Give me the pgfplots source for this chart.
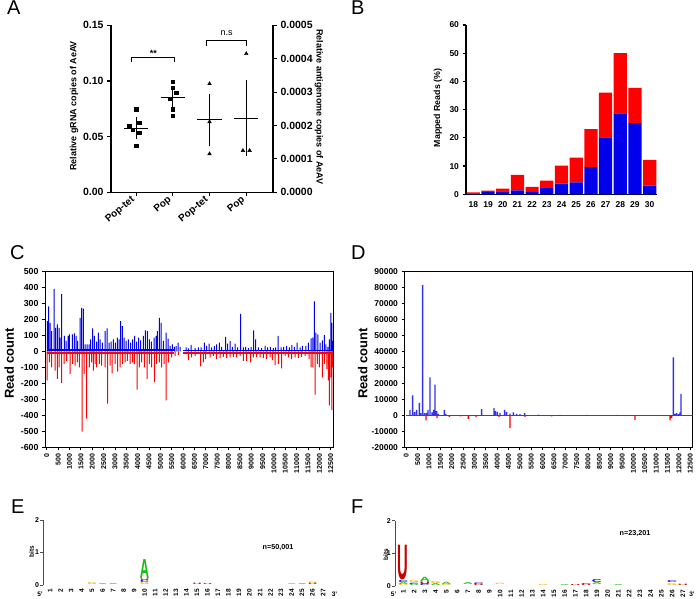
\documentclass[border=0pt]{standalone}
\usepackage{fontspec}
\setmainfont{Liberation Sans}
\usepackage{graphicx}
\usepackage{pgfplots}
\pgfplotsset{compat=1.18}
\definecolor{cblue}{RGB}{0,0,235}
\definecolor{dblue}{RGB}{50,50,230}
\definecolor{cred}{RGB}{255,0,0}
\definecolor{lgA}{RGB}{20,190,20}
\definecolor{lgU}{RGB}{200,0,0}
\definecolor{lgC}{RGB}{0,0,210}
\definecolor{lgG}{RGB}{255,175,0}
\newcommand{\fs}[1]{\fontsize{#1}{#1}\selectfont}
\newcommand{\lgl}[3]{\resizebox{#2}{#3}{\bfseries #1}}
\newcommand{\lgp}[6]{\addplot[only marks, mark=text, text mark as node=true, text mark={\lgl{#1}{#6}{#5}}, text mark style={inner sep=0pt, anchor=center, text=#2}, color=#2] coordinates {(#3,#4)};}
\pgfplotsset{myax/.style={scale only axis, anchor=south west,
  /pgf/number format/assume math mode=true, /pgf/number format/1000 sep={},
  scaled ticks=false}}
\begin{document}
\begin{tikzpicture}[x=1pt,y=1pt]
\useasboundingbox (0pt,0pt) rectangle (696pt,599pt);
% panel letters
\node[anchor=base west, font=\fs{20}, inner sep=0pt] at (7pt,584pt) {A};
\node[anchor=base west, font=\fs{20}, inner sep=0pt] at (351pt,584pt) {B};
\node[anchor=base west, font=\fs{20}, inner sep=0pt] at (10pt,339pt) {C};
\node[anchor=base west, font=\fs{20}, inner sep=0pt] at (351pt,339pt) {D};
\node[anchor=base west, font=\fs{20}, inner sep=0pt] at (11pt,85pt) {E};
\node[anchor=base west, font=\fs{20}, inner sep=0pt] at (351pt,85pt) {F};

% ---------------- A (left axis) ----------------
\begin{axis}[myax, at={(111pt,406.7pt)}, width=162pt, height=167pt,
  xmin=0.15, xmax=5, ymin=0, ymax=0.15, clip=false,
  axis x line*=bottom, axis y line*=left, axis line style={-, line width=1.1pt},
  tick align=outside, major tick length=4pt, tick style={line width=1.1pt, black},
  ytick={0,0.05,0.1,0.15}, yticklabels={0.00,0.05,0.10,0.15},
  xtick={0.9,2.0,3.1,4.2}, xticklabels={Pop-tet,Pop,Pop-tet,Pop},
  xticklabel style={rotate=40, anchor=east, font=\fs{10}\bfseries},
  yticklabel style={font=\fs{10.5}\bfseries},
  ylabel={Relative gRNA copies of AeAV},
  ylabel style={at={(axis description cs:-0.228,0.517)}, anchor=center, font=\fs{9}\bfseries}]
\addplot[only marks, mark=square*, mark size=1.75pt, black] coordinates {(0.9,0.0745)(0.7,0.0595)(1.0,0.0625)(0.8,0.056)(1.0,0.0535)(0.9,0.0418)};
\addplot[only marks, mark=square*, mark size=1.75pt, black] coordinates {(2.0,0.0993)(2.0,0.0939)(2.1,0.0894)(1.9,0.0841)(2.0,0.0745)(2.0,0.0688)};
\addplot[black, line width=1pt] coordinates {(0.535,0.0577)(1.265,0.0577)};
\addplot[black, line width=1pt] coordinates {(1.635,0.0853)(2.365,0.0853)};
\addplot[black, mark=none, error bars/.cd, y dir=both, y explicit, error bar style={line width=1pt}, error mark options={black, mark size=5.8pt, line width=1pt}] coordinates {(0.9,0.0577) +- (0,0.0045)};
\addplot[black, mark=none, error bars/.cd, y dir=both, y explicit, error bar style={line width=1pt}, error mark options={black, mark size=5.8pt, line width=1pt}] coordinates {(2.0,0.0853) +- (0,0.0045)};
\addplot[black, line width=1pt] coordinates {(0.77,0.1173)(0.77,0.1212)(2.05,0.1212)(2.05,0.1173)};
\addplot[black, line width=1pt] coordinates {(3.02,0.1311)(3.02,0.1359)(4.21,0.1359)(4.21,0.1311)};
\node[font=\fs{9}\bfseries] at (axis cs:1.42,0.1245) {**};
\node[font=\fs{9}] at (axis cs:3.61,0.1433) {n.s};
\end{axis}
% ---------------- A (right axis) ----------------
\begin{axis}[myax, at={(111pt,406.7pt)}, width=162pt, height=167pt,
  xmin=0.15, xmax=5, ymin=0, ymax=0.0005, clip=false,
  axis x line=none, axis y line*=right, axis line style={-, line width=1.1pt},
  tick align=outside, major tick length=4pt, tick style={line width=1.1pt, black},
  xtick=\empty,
  ytick={0,0.0001,0.0002,0.0003,0.0004,0.0005},
  yticklabels={0.0000,0.0001,0.0002,0.0003,0.0004,0.0005},
  yticklabel style={font=\fs{10.5}\bfseries},
  ylabel={Relative antigenome copies of AeAV},
  ylabel style={at={(axis description cs:1.284,0.51)}, anchor=center, rotate=180, font=\fs{9}\bfseries}]
\addplot[only marks, mark=triangle*, mark size=2.1pt, black] coordinates {(3.1,0.000325)(3.1,0.000211)(3.1,0.000115)(4.2,0.000415)(4.1,0.000125)(4.3,0.000125)};
\addplot[black, line width=1pt] coordinates {(2.735,0.000217)(3.465,0.000217)};
\addplot[black, line width=1pt] coordinates {(3.835,0.000222)(4.565,0.000222)};
\addplot[black, mark=none, error bars/.cd, y dir=both, y explicit, error bar style={line width=1pt}, error mark options={black, mark size=5.8pt, line width=1pt}] coordinates {(3.1,0.000217) +- (0,0.0000605)};
\addplot[black, mark=none, error bars/.cd, y dir=both, y explicit, error bar style={line width=1pt}, error mark options={black, mark size=5.8pt, line width=1pt}] coordinates {(4.2,0.000222) +- (0,0.0000967)};
\end{axis}

% ---------------- B ----------------
\begin{axis}[myax, at={(466pt,404.7pt)}, width=191pt, height=169.3pt,
  xmin=17.5, xmax=30.5, ymin=0, ymax=60,
  ybar stacked, bar width=0.9,
  axis x line*=bottom, axis y line*=left, axis line style={-, line width=1.4pt},
  tick align=outside, major tick length=3.5pt, tick style={line width=1.2pt, black},
  major x tick style={draw=none},
  ytick={0,10,...,60}, xtick={18,...,30},
  ticklabel style={font=\fs{8.5}\bfseries},
  ylabel={Mapped Reads (\%)},
  ylabel style={at={(axis description cs:-0.147,0.51)}, anchor=center, font=\fs{8.8}\bfseries}]
\addplot[fill=cblue, draw=none] coordinates {(18,0.35)(19,0.9)(20,1.0)(21,1.4)(22,0.8)(23,2.2)(24,3.8)(25,4.25)(26,9.6)(27,20.2)(28,28.7)(29,25.2)(30,3.1)};
\addplot[fill=cred, draw=none] coordinates {(18,0.35)(19,0.4)(20,1.0)(21,5.45)(22,1.8)(23,2.65)(24,6.4)(25,8.75)(26,13.5)(27,15.8)(28,21.3)(29,12.5)(30,9.1)};
\end{axis}

% ---------------- C ----------------
\begin{axis}[myax, at={(45pt,151.5pt)}, width=288pt, height=176pt,
  xmin=-80, xmax=12600, ymin=-600, ymax=500,
  axis line style={line width=1pt}, tick pos=left, tick align=outside,
  major tick length=3pt, tick style={black, line width=0.8pt},
  ytick={-600,-500,...,500}, xtick={0,500,...,12500},
  xticklabel style={rotate=90, anchor=east, font=\fs{7}\bfseries},
  yticklabel style={font=\fs{8.8}\bfseries},
  ylabel={Read count},
  ylabel style={at={(axis description cs:-0.124,0.478)}, anchor=center, font=\fs{13}\bfseries}]
\addplot[cblue, line width=2.2pt] coordinates {(0,9)(5600,9)};
\addplot[cblue, line width=1.6pt] coordinates {(6000,6)(12600,6)};
\addplot[cred, line width=2.2pt] coordinates {(0,-10)(5600,-10)};
\addplot[cred, line width=1.6pt] coordinates {(6000,-8)(12600,-8)};
\addplot[ybar, bar shift=0pt, bar width=1pt, fill=cblue, draw=none] coordinates {
(23,190)(82,282)(141,179)(214,128)(317,392)(390,148)(464,169)(537,148)(581,87)(654,359)(772,97)(845,66)(933,97)(992,107)(1124,107)(1212,113)(1286,97)(1359,66)(1462,210)(1535,272)(1608,268)(1682,45)(1770,45)(1858,45)(1931,76)(2019,144)(2093,97)(2196,62)(2269,118)(2342,76)(2445,56)(2563,128)(2651,144)(2739,56)(2827,62)(2930,76)(3018,56)(3106,87)(3179,76)(3252,190)(3326,159)(3399,87)(3487,66)(3590,76)(3693,56)(3781,76)(3869,97)(3957,62)(4045,87)(4133,70)(4250,97)(4338,132)(4426,128)(4514,76)(4602,62)(4720,87)(4808,97)(4866,128)(4954,210)(5028,179)(5130,66)(5248,118)(5336,80)(5424,35)(5527,45)(5615,29)(5689,35)(5777,56)(5865,29)
(6129,25)(6232,20)(6349,41)(6525,21)(6672,25)(6790,25)(6936,56)(7039,35)(7142,49)(7259,25)(7377,33)(7480,45)(7597,56)(7700,29)(7876,91)(7965,49)(8067,66)(8170,29)(8288,49)(8405,25)(8537,235)(8655,25)(8757,29)(8875,21)(8992,29)(9110,132)(9198,76)(9315,25)(9462,21)(9609,35)(9726,25)(9844,29)(9976,21)(10079,25)(10181,97)(10313,25)(10431,29)(10563,33)(10681,25)(10784,41)(10901,29)(11019,56)(11151,25)(11254,35)(11401,35)(11518,56)(11636,82)(11709,87)(11783,313)(11841,118)(11929,107)(12032,56)(12135,70)(12223,103)(12281,45)(12369,29)(12443,76)(12502,241)(12546,179)(12590,66)};
\addplot[ybar, bar shift=0pt, bar width=1pt, fill=cred, draw=none] coordinates {
(10,-181)(111,-68)(214,-99)(361,-120)(464,-171)(537,-99)(654,-198)(757,-78)(875,-58)(1021,-140)(1139,-78)(1241,-89)(1344,-68)(1432,-99)(1550,-501)(1638,-140)(1755,-419)(1873,-99)(1975,-68)(2049,-120)(2122,-78)(2196,-99)(2313,-78)(2416,-89)(2563,-99)(2680,-326)(2783,-89)(2871,-136)(3003,-78)(3120,-126)(3223,-99)(3340,-78)(3443,-68)(3546,-58)(3663,-78)(3781,-68)(3854,-78)(3971,-239)(4074,-99)(4177,-68)(4294,-99)(4412,-171)(4514,-78)(4617,-99)(4749,-192)(4837,-78)(4954,-68)(5057,-99)(5160,-78)(5248,-305)(5351,-68)(5498,-37)(5645,-27)(5792,-21)
(6232,-54)(6378,-37)(6525,-27)(6775,-93)(6892,-68)(6995,-47)(7186,-37)(7333,-27)(7480,-47)(7627,-41)(7773,-33)(7920,-41)(8067,-37)(8214,-33)(8361,-37)(8507,-27)(8654,-58)(8801,-58)(8977,-68)(9095,-37)(9242,-33)(9389,-37)(9535,-41)(9682,-47)(9829,-37)(9932,-54)(10049,-85)(10196,-78)(10343,-105)(10489,-27)(10636,-37)(10783,-47)(10930,-37)(11077,-41)(11224,-33)(11371,-27)(11547,-47)(11636,-99)(11709,-99)(11812,-270)(11915,-78)(12003,-99)(12135,-161)(12223,-78)(12326,-109)(12399,-181)(12443,-336)(12502,-161)(12546,-367)(12590,-99)};
\end{axis}

% ---------------- D ----------------
\begin{axis}[myax, at={(404.5pt,151.5pt)}, width=288pt, height=176pt,
  xmin=-80, xmax=12600, ymin=-20000, ymax=90000,
  axis line style={line width=1pt}, tick pos=left, tick align=outside,
  major tick length=3pt, tick style={black, line width=0.8pt},
  ytick={-20000,-10000,...,90000}, xtick={0,500,...,12500},
  xticklabel style={rotate=90, anchor=east, font=\fs{7}\bfseries},
  yticklabel style={font=\fs{8.5}\bfseries},
  ylabel={Read count},
  ylabel style={at={(axis description cs:-0.145,0.478)}, anchor=center, font=\fs{13}\bfseries}]
\addplot[cred, line width=0.9pt] coordinates {(0,0)(12600,0)};
\addplot[ybar, bar shift=0pt, bar width=1.4pt, fill=dblue, draw=none] coordinates {
(162,3500)(280,12500)(368,2100)(456,3500)(573,7900)(632,1500)(720,81700)(808,1500)(896,1700)(955,3500)(1043,23900)(1131,1900)(1204,3500)(1263,19300)(1336,2700)(1410,1000)(1674,3500)(1733,1000)(3318,3950)(3861,4570)(3919,2700)(4007,2300)(4125,1500)(4330,3500)(4418,2100)(4565,1200)(4712,1900)(4859,1000)(5005,800)(5211,1450)(5813,600)(6767,400)(7941,400)(9262,400)(11757,36400)(11830,1000)(11904,1500)(11992,800)(12050,1900)(12094,13500)};
\addplot[ybar, bar shift=0pt, bar width=1.4pt, fill=cred, draw=none] coordinates {
(867,-3100)(1351,-1700)(1894,-900)(2393,-600)(2730,-2100)(3068,-1000)(4081,-800)(4565,-7900)(5226,-800)(6400,-600)(10069,-2700)(11610,-3100)(11683,-1700)};
\end{axis}

% ---------------- E ----------------
\begin{axis}[myax, at={(43.3pt,14pt)}, width=286pt, height=65pt,
  xmin=0.36, xmax=27.6, ymin=0, ymax=2, clip=false,
  axis x line*=bottom, axis y line*=left, x axis line style={draw=none},
  y axis line style={-, line width=0.8pt, black!70},
  tick align=outside, major tick length=3pt, tick style={line width=0.8pt, black!70},
  major x tick style={draw=none},
  ytick={0,1,2}, xtick={1,...,27},
  xticklabel style={rotate=90, anchor=east, font=\fs{6.5}\bfseries, inner sep=1pt},
  yticklabel style={font=\fs{7}\bfseries, inner sep=1pt},
  ylabel={bits},
  ylabel style={at={(axis description cs:-0.041,0.51)}, anchor=center, font=\fs{6.5}\bfseries}]
\lgp{A}{lgA}{10}{0.5}{18.9pt}{9.3pt}
\lgp{U}{lgU}{10}{0.175}{1.6pt}{9pt}
\lgp{C}{lgC}{10}{0.115}{2.3pt}{9pt}
\lgp{G}{lgG}{10}{0.035}{2.3pt}{9pt}
\lgp{G}{lgG}{5}{0.06}{2pt}{9pt}
\lgp{A}{lgA}{6}{0.035}{1pt}{9pt}
\lgp{A}{lgA}{7}{0.035}{1pt}{9pt}
\lgp{U}{lgU}{15}{0.05}{1.3pt}{9pt}
\lgp{U}{lgU}{16}{0.035}{1pt}{9pt}
\lgp{A}{lgA}{24}{0.03}{0.8pt}{9pt}
\lgp{A}{lgA}{25}{0.035}{1pt}{9pt}
\lgp{G}{lgG}{26}{0.065}{1.6pt}{9pt}
\lgp{U}{lgU}{26}{0.02}{1.2pt}{9pt}
\end{axis}
\node[font=\fs{7.2}\bfseries] at (278pt,51.7pt) {n=50,001};
\node[font=\fs{6.5}\bfseries] at (40pt,5pt) {5'};
\node[font=\fs{6.5}\bfseries] at (334.5pt,5pt) {3'};

% ---------------- F ----------------
\begin{axis}[myax, at={(395pt,13pt)}, width=294.3pt, height=65.3pt,
  xmin=0.228, xmax=27.6, ymin=0, ymax=2, clip=false,
  axis x line*=bottom, axis y line*=left, x axis line style={draw=none},
  y axis line style={-, line width=0.8pt, black!70},
  tick align=outside, major tick length=3pt, tick style={line width=0.8pt, black!70},
  major x tick style={draw=none},
  ytick={0,1,2}, xtick={1,...,27},
  xticklabel style={rotate=90, anchor=east, font=\fs{6.5}\bfseries, inner sep=1pt},
  yticklabel style={font=\fs{7}\bfseries, inner sep=1pt},
  ylabel={bits},
  ylabel style={at={(axis description cs:-0.031,0.475)}, anchor=center, font=\fs{6.5}\bfseries}]
\lgp{U}{lgU}{1}{0.705}{34.3pt}{10.7pt}
\lgp{C}{lgC}{1}{0.15}{2pt}{10pt}
\lgp{A}{lgA}{1}{0.075}{2.3pt}{10pt}
\lgp{G}{lgG}{1}{0.02}{1.3pt}{10pt}
\lgp{G}{lgG}{2}{0.13}{2pt}{10pt}
\lgp{C}{lgC}{2}{0.08}{1.3pt}{10pt}
\lgp{A}{lgA}{2}{0.025}{1.6pt}{10pt}
\lgp{A}{lgA}{3}{0.195}{4.2pt}{10pt}
\lgp{U}{lgU}{3}{0.09}{2.6pt}{10pt}
\lgp{C}{lgC}{3}{0.025}{1.6pt}{10pt}
\lgp{G}{lgG}{4}{0.11}{2pt}{10pt}
\lgp{A}{lgA}{4}{0.05}{2pt}{10pt}
\lgp{A}{lgA}{5}{0.095}{2.3pt}{10pt}
\lgp{G}{lgG}{5}{0.035}{1.6pt}{10pt}
\lgp{A}{lgA}{7}{0.07}{2pt}{10pt}
\lgp{C}{lgC}{8}{0.075}{1.6pt}{10pt}
\lgp{U}{lgU}{8}{0.03}{1.3pt}{10pt}
\lgp{G}{lgG}{10}{0.06}{1.3pt}{10pt}
\lgp{G}{lgG}{14}{0.035}{1pt}{10pt}
\lgp{A}{lgA}{16}{0.045}{1pt}{10pt}
\lgp{U}{lgU}{17}{0.035}{1pt}{10pt}
\lgp{C}{lgC}{18}{0.055}{1pt}{10pt}
\lgp{U}{lgU}{18}{0.025}{1pt}{10pt}
\lgp{C}{lgC}{19}{0.155}{3pt}{10pt}
\lgp{A}{lgA}{19}{0.07}{2pt}{10pt}
\lgp{A}{lgA}{21}{0.035}{1pt}{10pt}
\lgp{C}{lgC}{26}{0.13}{2pt}{10pt}
\lgp{G}{lgG}{26}{0.06}{2pt}{10pt}
\lgp{U}{lgU}{27}{0.04}{1.3pt}{10pt}
\end{axis}
\node[font=\fs{7.2}\bfseries] at (635pt,65pt) {n=23,201};
\node[font=\fs{6.5}\bfseries] at (393.7pt,5pt) {5'};
\node[font=\fs{6.5}\bfseries] at (692pt,5pt) {3'};
\end{tikzpicture}
\end{document}
